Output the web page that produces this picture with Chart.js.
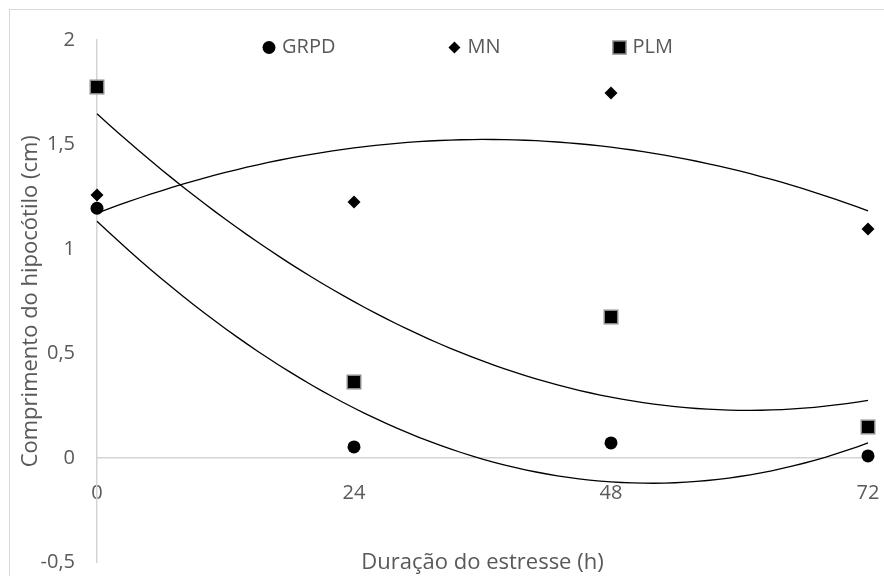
<!DOCTYPE html>
<html>
<head>
<meta charset="utf-8">
<script src="https://cdn.jsdelivr.net/npm/chart.js@4.4.1/dist/chart.umd.min.js"></script>
<style>
  html, body { margin: 0; padding: 0; background: #fff; overflow: hidden; }
  #wrap { position: relative; width: 884px; height: 576px; }
  #frame { position: absolute; left: 9px; top: 9px; width: 900px; height: 600px;
           border-left: 1px solid #d9d9d9; border-top: 1px solid #d9d9d9; pointer-events: none; }
</style>
</head>
<body>
<div id="wrap">
  <canvas id="chart" width="884" height="576"></canvas>
  <div id="frame"></div>
</div>
<script>
// Data
const hours = [0, 24, 48, 72];
const grpd = [1.195, 0.053, 0.072, 0.010];
const mn   = [1.258, 1.225, 1.746, 1.096];
const plm  = [1.775, 0.364, 0.675, 0.148];
const seriesNames = ['GRPD', 'MN', 'PLM'];
const xTitle = 'Duração do estresse (h)';
const yTitle = 'Comprimento do hipocótilo (cm)';

const TEXT = '#595959';
const AXIS = '#d4d4d4';

// order-2 polynomial trendline (least squares), like the spreadsheet's trendline
function quadFit(xs, ys) {
  let s = [0, 0, 0, 0, 0], t = [0, 0, 0];
  xs.forEach((x, i) => {
    for (let k = 0; k < 5; k++) s[k] += Math.pow(x, k);
    for (let k = 0; k < 3; k++) t[k] += Math.pow(x, k) * ys[i];
  });
  const m = [[s[0], s[1], s[2], t[0]], [s[1], s[2], s[3], t[1]], [s[2], s[3], s[4], t[2]]];
  for (let i = 0; i < 3; i++) {
    for (let j = i + 1; j < 3; j++) {
      const f = m[j][i] / m[i][i];
      for (let k = i; k < 4; k++) m[j][k] -= f * m[i][k];
    }
  }
  const c = [0, 0, 0];
  for (let i = 2; i >= 0; i--) {
    let v = m[i][3];
    for (let k = i + 1; k < 3; k++) v -= m[i][k] * c[k];
    c[i] = v / m[i][i];
  }
  return c;
}

function trend(ys) {
  const c = quadFit(hours, ys);
  const pts = [];
  for (let x = hours[0]; x <= hours[hours.length - 1]; x += 1) {
    pts.push({ x: x, y: c[0] + c[1] * x + c[2] * x * x });
  }
  return pts;
}

const toPoints = ys => hours.map((h, i) => ({ x: h, y: ys[i] }));

const markers = [
  { style: 'circle', radius: 6.5, border: '#000', bw: 0 },
  { style: 'rectRot', radius: 6.5, border: '#000', bw: 0 },
  { style: 'rect', radius: 9.5, border: '#8a8a8a', bw: 1.5 }
];

const scatterSets = [grpd, mn, plm].map((ys, i) => ({
  type: 'scatter',
  label: seriesNames[i],
  data: toPoints(ys),
  pointStyle: markers[i].style,
  pointRadius: markers[i].radius,
  pointBackgroundColor: '#000',
  pointBorderColor: markers[i].border,
  pointBorderWidth: markers[i].bw,
  order: 0,
  clip: false
}));

const trendSets = [grpd, mn, plm].map(ys => ({
  type: 'line',
  label: 'trend',
  data: trend(ys),
  borderColor: '#000',
  borderWidth: 1.3,
  pointRadius: 0,
  tension: 0,
  order: 1,
  clip: false
}));

// legend drawn inside the plot, near the top
const legendPlugin = {
  id: 'insideLegend',
  afterDraw(chart) {
    const { ctx, chartArea } = chart;
    ctx.save();
    ctx.font = '20px "Open Sans"';
    ctx.textBaseline = 'middle';
    const y = chartArea.top + 7.5;
    let x = chartArea.left + 172;
    seriesNames.forEach((name, i) => {
      ctx.fillStyle = '#000';
      ctx.beginPath();
      if (i === 0) {
        ctx.arc(x, y, 6.5, 0, Math.PI * 2);
        ctx.fill();
      } else if (i === 1) {
        ctx.moveTo(x, y - 6); ctx.lineTo(x + 6, y); ctx.lineTo(x, y + 6); ctx.lineTo(x - 6, y);
        ctx.closePath();
        ctx.fill();
      } else {
        ctx.rect(x - 6.5, y - 6.5, 13, 13);
        ctx.fill();
        ctx.strokeStyle = '#8a8a8a';
        ctx.lineWidth = 1.5;
        ctx.stroke();
      }
      ctx.fillStyle = TEXT;
      ctx.fillText(name, x + 13, y);
      x += 13 + ctx.measureText(name).width + 119;
    });
    ctx.restore();
  }
};

// x axis title sits at the bottom of the plot, not next to the axis at y = 0
const xTitlePlugin = {
  id: 'xTitle',
  afterDraw(chart) {
    const { ctx, chartArea } = chart;
    ctx.save();
    ctx.font = '22px "Open Sans"';
    ctx.fillStyle = TEXT;
    ctx.textAlign = 'center';
    ctx.textBaseline = 'middle';
    ctx.fillText(xTitle, (chartArea.left + chartArea.right) / 2, chartArea.bottom);
    ctx.restore();
  }
};

new Chart(document.getElementById('chart'), {
  data: { datasets: scatterSets.concat(trendSets) },
  options: {
    responsive: false,
    animation: false,
    devicePixelRatio: 1,
    layout: { autoPadding: false, padding: { left: 10, right: 16, top: 40, bottom: 13.5 } },
    plugins: { legend: { display: false }, tooltip: { enabled: false } },
    scales: {
      x: {
        type: 'linear',
        position: { y: 0 },
        min: 0,
        max: 72,
        afterFit: s => {
          s.height = 0;
          s.paddingLeft = s.paddingRight = s.paddingTop = s.paddingBottom = 0;
        },
        grid: { display: false, drawTicks: false },
        border: { display: true, color: AXIS, width: 1.5 },
        ticks: {
          stepSize: 24,
          padding: 23,
          maxRotation: 0,
          color: TEXT,
          font: { family: 'Open Sans', size: 20 }
        }
      },
      y: {
        type: 'linear',
        min: -0.5,
        max: 2,
        afterFit: s => {
          s.width = 87;
          s.paddingLeft = s.paddingRight = s.paddingTop = s.paddingBottom = 0;
        },
        grid: { display: false, drawTicks: false },
        border: { display: true, color: AXIS, width: 1.5 },
        ticks: {
          stepSize: 0.5,
          padding: 22,
          color: TEXT,
          font: { family: 'Open Sans', size: 20 },
          callback: v => String(v).replace('.', ',')
        },
        title: {
          display: true,
          text: yTitle,
          color: TEXT,
          font: { family: 'Open Sans', size: 22 },
          padding: { top: 8, bottom: 0 }
        }
      }
    }
  },
  plugins: [legendPlugin, xTitlePlugin]
});
</script>
</body>
</html>
